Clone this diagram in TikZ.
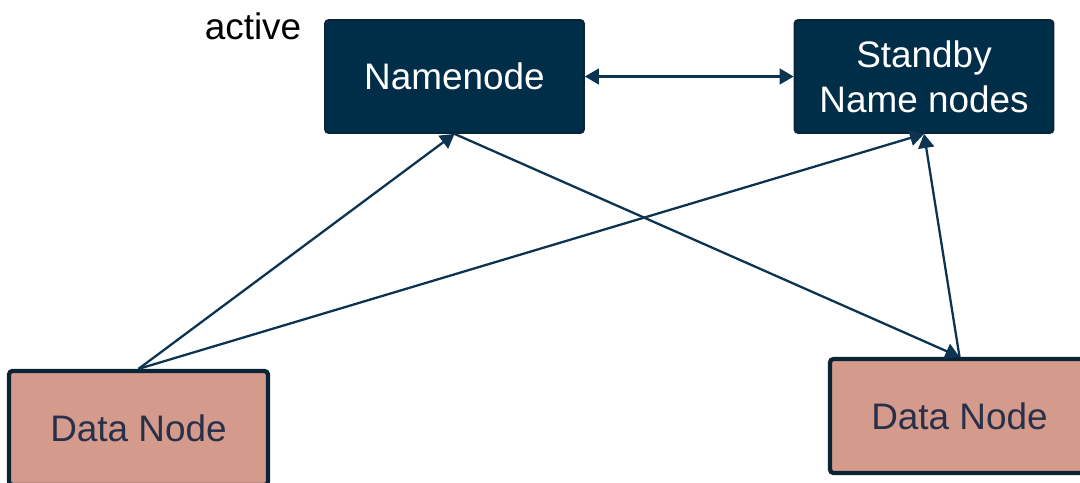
\documentclass[tikz,border=0pt]{standalone}
\usepackage{fontspec}
\setmainfont{Liberation Sans}
\usepackage{tikz}
\usetikzlibrary{arrows.meta,positioning}
\definecolor{navybox}{HTML}{002E48}
\definecolor{navyline}{HTML}{0C3350}
\definecolor{navyedge}{HTML}{0A2436}
\definecolor{datafill}{HTML}{D49A8B}
\definecolor{datatext}{HTML}{29304A}

\begin{document}
\begin{tikzpicture}[>={Triangle[length=8pt,width=9pt]},
  nn/.style={draw=navyedge, line width=1pt, rounded corners=2pt, fill=navybox, text=white, minimum width=5.18cm, minimum height=2.26cm, font=\fontsize{21}{25.5}\selectfont, align=center, inner sep=0pt},
  dn/.style={draw=navyedge, line width=2.4pt, rounded corners=2pt, fill=datafill, text=datatext, minimum width=5.18cm, minimum height=2.28cm, font=\fontsize{21}{25}\selectfont, align=center},
  link/.style={navyline, line width=1.3pt}]
\useasboundingbox (0,0) rectangle (21.6,-9.64);
\node[nn] (name) at (9.09,-1.53) {Namenode};
\node[nn] (standby) at (18.48,-1.53) {Standby\\Name nodes};
\node[dn] (dleft) at (2.77,-8.56) {Data Node};
\node[dn] (dright) at (19.19,-8.32) {Data Node};
\node[font=\fontsize{21}{25}\selectfont] (act) at (5.06,-0.52) {active};
% heartbeats and block reports
\draw[link, <->] (name.east) -- (standby.west);
\draw[link, ->] (dleft.north) -- (name.south);
\draw[link, ->] (dleft.north) -- (standby.south);
\draw[link, ->] (name.south) -- (dright.north);
\draw[link, ->] (dright.north) -- (standby.south);
\end{tikzpicture}
\end{document}
